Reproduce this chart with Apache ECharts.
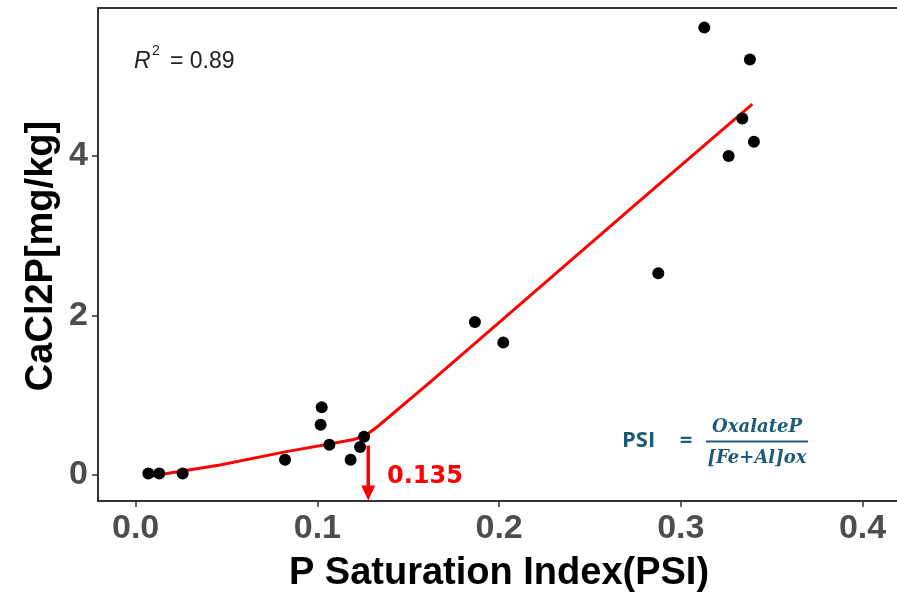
<!DOCTYPE html>
<html>
<head>
<meta charset="utf-8">
<script src="https://cdn.jsdelivr.net/npm/echarts@6/dist/echarts.min.js"></script>
<style>html,body{margin:0;padding:0;background:#fff;overflow:hidden;}#c{width:897px;height:594px;}</style>
</head>
<body>
<div id="c"></div>
<script>
// ---- data ----
const psi    = [0.0070, 0.0130, 0.0259, 0.0822, 0.1024, 0.1018, 0.1066, 0.1183, 0.1235, 0.1257, 0.1867, 0.2023, 0.2876, 0.3129, 0.3263, 0.3338, 0.3380, 0.3402];
const cacl2p = [0.02,   0.02,   0.02,   0.19,   0.85,   0.63,   0.38,   0.19,   0.35,   0.48,   1.92,   1.66,   2.53,   5.61,   4.00,   4.47,   5.21,   4.18];
const fitX = [0.007, 0.0464, 0.0822, 0.1066, 0.1200, 0.1240, 0.1280, 0.1330, 0.1638, 0.2775, 0.3393];
const fitY = [-0.02, 0.125,  0.29,   0.39,   0.445,  0.475,  0.52,   0.605,  1.20,   3.44,   4.65];
const xTicks = [0, 0.1, 0.2, 0.3, 0.4];
const xTickLabels = ['0.0', '0.1', '0.2', '0.3', '0.4'];
const yTicks = [0, 2, 4];
const yTickLabels = ['0', '2', '4'];
const breakX = 0.128;
const arrowTop = 0.37, arrowEnd = -0.226;
const breakLabel = '0.135';
const r2Text = '0.89';

const SANS = '"Liberation Sans", Arial, sans-serif';
function lab(ticks, labels) {
  return v => { for (let i = 0; i < ticks.length; i++) if (Math.abs(ticks[i] - v) < 1e-9) return labels[i]; return ''; };
}

const X_MIN = -0.02069, X_MAX = 0.41893, Y_MIN = -0.326, Y_MAX = 5.856;
const borderLine = {show: true, onZero: false, lineStyle: {color: '#333', width: 2}};
const chart = echarts.init(document.getElementById('c'), null, {renderer: 'canvas'});
const teal = '#1f5a78';
chart.setOption({
  backgroundColor: '#fff',
  animation: false,
  grid: {left: 98, top: 8, width: 799, height: 493, show: false},
  xAxis: [{
    type: 'value', min: X_MIN, max: X_MAX, position: 'bottom',
    axisLine: borderLine,
    splitLine: {show: false},
    axisTick: {show: true, length: 6, customValues: xTicks, lineStyle: {color: '#333', width: 1.5}},
    axisLabel: {customValues: xTicks, formatter: lab(xTicks, xTickLabels), color: '#4d4d4d', fontFamily: SANS, fontWeight: 'bold', fontSize: 34, margin: 11}
  }, {
    type: 'value', min: X_MIN, max: X_MAX, position: 'top',
    axisLine: borderLine, axisTick: {show: false}, axisLabel: {show: false}, splitLine: {show: false}
  }],
  yAxis: {
    type: 'value', min: Y_MIN, max: Y_MAX, position: 'left',
    axisLine: borderLine,
    splitLine: {show: false},
    axisTick: {show: true, length: 6, customValues: yTicks, lineStyle: {color: '#333', width: 1.5}},
    axisLabel: {customValues: yTicks, formatter: lab(yTicks, yTickLabels), color: '#4d4d4d', fontFamily: SANS, fontWeight: 'bold', fontSize: 34, margin: 10}
  },
  series: [
    {
      type: 'line', data: fitX.map((x, i) => [x, fitY[i]]), showSymbol: false, symbol: 'none',
      lineStyle: {color: '#ff0000', width: 3}, z: 2
    },
    {
      type: 'line', data: [[breakX, arrowTop], [breakX, arrowEnd]], showSymbol: false, symbol: 'none',
      lineStyle: {color: '#ff0000', width: 3.5}, z: 2
    },
    {
      type: 'scatter', data: [[breakX, arrowEnd]], symbol: 'triangle', symbolSize: [14, 15], symbolRotate: 180,
      itemStyle: {color: '#ff0000', opacity: 1}, z: 2
    },
    {
      type: 'scatter', data: psi.map((x, i) => [x, cacl2p[i]]), symbol: 'circle', symbolSize: 12,
      itemStyle: {color: '#000', opacity: 1}, z: 3
    }
  ],
  graphic: [
    {type: 'text', x: 499, y: 574, style: {text: 'P Saturation Index(PSI)', font: 'bold 38px ' + SANS, fill: '#000', align: 'center', verticalAlign: 'middle'}},
    {type: 'text', x: 42, y: 256, rotation: Math.PI / 2, style: {text: 'CaCl2P[mg/kg]', font: 'bold 38px ' + SANS, fill: '#000', align: 'center', verticalAlign: 'middle'}},
    {type: 'text', x: 134, y: 62, style: {text: 'R', font: 'italic 23px ' + SANS, fill: '#222', align: 'left', verticalAlign: 'middle'}},
    {type: 'text', x: 152, y: 51, style: {text: '2', font: '14px ' + SANS, fill: '#222', align: 'left', verticalAlign: 'middle'}},
    {type: 'text', x: 170, y: 62, style: {text: '= ' + r2Text, font: '23px ' + SANS, fill: '#222', align: 'left', verticalAlign: 'middle'}},
    {type: 'text', x: 387, y: 477, style: {text: breakLabel, font: 'bold 24px "DejaVu Sans", Verdana, sans-serif', fill: '#ff0000', align: 'left', verticalAlign: 'middle'}},
    {type: 'text', x: 622, y: 441, style: {text: 'PSI', font: 'bold 22px "Open Sans", sans-serif', fill: teal, align: 'left', verticalAlign: 'middle'}},
    {type: 'text', x: 686, y: 441, style: {text: '=', font: 'bold 22px "Open Sans", sans-serif', fill: teal, align: 'center', verticalAlign: 'middle'}},
    {type: 'text', x: 757, y: 427, style: {text: 'OxalateP', font: 'italic bold 18px "DejaVu Serif", serif', fill: teal, align: 'center', verticalAlign: 'middle'}},
    {type: 'line', shape: {x1: 706, y1: 441.5, x2: 808, y2: 441.5}, style: {stroke: teal, lineWidth: 2}},
    {type: 'text', x: 757, y: 458, style: {text: '[Fe+Al]ox', font: 'italic bold 18px "DejaVu Serif", serif', fill: teal, align: 'center', verticalAlign: 'middle'}}
  ]
});
</script>
</body>
</html>
